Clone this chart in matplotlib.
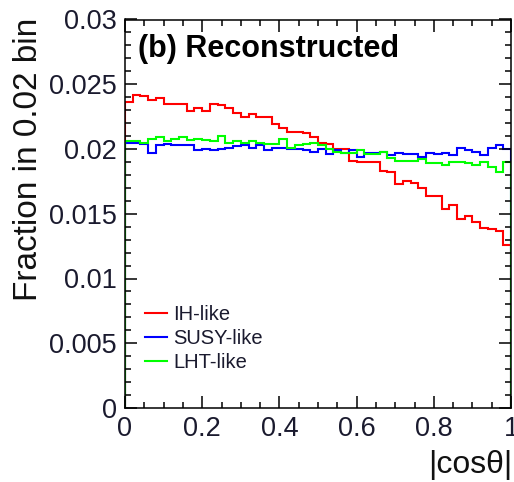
import numpy as np
import matplotlib
matplotlib.use("Agg")
import matplotlib.pyplot as plt
from matplotlib.lines import Line2D
from matplotlib.ticker import MultipleLocator

plt.rcParams["font.family"] = ["Liberation Sans", "DejaVu Sans"]

# 50 bins of |cos theta| between 0 and 1, fraction of events per 0.02 bin
bin_edges = np.linspace(0.0, 1.0, 51)

ih_like = [
    0.0236, 0.0242, 0.0241, 0.0238, 0.0239, 0.0235, 0.0235, 0.0235, 0.0229, 0.0232,
    0.0229, 0.0235, 0.0234, 0.0232, 0.0228, 0.0225, 0.0227, 0.0225, 0.0225, 0.0219,
    0.0216, 0.0213, 0.0213, 0.0212, 0.0209, 0.0205, 0.0204, 0.0200, 0.0200, 0.0191,
    0.0190, 0.0190, 0.0190, 0.0183, 0.0182, 0.0173, 0.0175, 0.0174, 0.0170, 0.0164,
    0.0164, 0.0154, 0.0157, 0.0146, 0.0148, 0.0144, 0.0139, 0.0138, 0.0137, 0.0126,
]
susy_like = [
    0.0205, 0.0205, 0.0204, 0.0197, 0.0203, 0.0204, 0.0203, 0.0203, 0.0203, 0.0199,
    0.0200, 0.0199, 0.0200, 0.0201, 0.0202, 0.0203, 0.0201, 0.0203, 0.0199, 0.0201,
    0.0201, 0.0200, 0.0200, 0.01995, 0.0198, 0.0200, 0.0196, 0.0199, 0.0197, 0.01995,
    0.01935, 0.0197, 0.0197, 0.0198, 0.0195, 0.0197, 0.0196, 0.0196, 0.0194, 0.0197,
    0.0196, 0.0197, 0.0195, 0.0201, 0.0199, 0.0198, 0.0195, 0.0201, 0.0203, 0.0200,
]
lht_like = [
    0.0206, 0.02065, 0.0205, 0.0208, 0.0209, 0.0206, 0.0208, 0.0209, 0.0207, 0.0208,
    0.0207, 0.0206, 0.0210, 0.0205, 0.0206, 0.0205, 0.0206, 0.0205, 0.0204, 0.0204,
    0.0208, 0.0201, 0.0203, 0.0204, 0.0205, 0.0203, 0.0200, 0.0198, 0.0197, 0.0197,
    0.0199, 0.0196, 0.0196, 0.0198, 0.0193, 0.0191, 0.0191, 0.0191, 0.0192, 0.0189,
    0.0189, 0.01876, 0.0190, 0.0190, 0.0189, 0.01876, 0.0190, 0.01858, 0.01819, 0.0190,
]

series_names = ["IH-like", "SUSY-like", "LHT-like"]
series_colors = ["#ff0000", "#0000ff", "#00ff00"]

x_ticks = [0.0, 0.2, 0.4, 0.6, 0.8, 1.0]
x_tick_labels = ["0", "0.2", "0.4", "0.6", "0.8", "1"]
y_ticks = [0.0, 0.005, 0.01, 0.015, 0.02, 0.025, 0.03]
y_tick_labels = ["0", "0.005", "0.01", "0.015", "0.02", "0.025", "0.03"]

text_col = "#1a1a2e"

fig = plt.figure(figsize=(5.14, 4.82), dpi=100)
ax = fig.add_axes([125 / 514, 74 / 482, 386 / 514, 388.5 / 482])

for vals, col in zip([ih_like, susy_like, lht_like], series_colors):
    ax.stairs(vals, bin_edges, color=col, linewidth=1.5, baseline=0.0)

ax.set_xlim(0, 1)
ax.set_ylim(0, 0.03)
ax.set_xticks(x_ticks)
ax.set_xticklabels(x_tick_labels)
ax.set_yticks(y_ticks)
ax.set_yticklabels(y_tick_labels)
ax.xaxis.set_minor_locator(MultipleLocator(0.05))
ax.yaxis.set_minor_locator(MultipleLocator(0.001))
ax.tick_params(which="both", direction="in", top=True, right=True,
               width=1.1, color="black", labelcolor=text_col, labelsize=19.5)
ax.tick_params(which="major", length=8.5)
ax.tick_params(which="minor", length=4.5)
ax.tick_params(axis="y", which="major", pad=6)
ax.tick_params(axis="x", which="major", pad=6)
for sp in ax.spines.values():
    sp.set_linewidth(1.1)

ax.text(0.034, 0.9035, "(b) Reconstructed", transform=ax.transAxes,
        fontsize=22, fontweight="bold", va="baseline", ha="left", color="black")

fig.text(29 / 514, 1 - 18 / 482, "Fraction in 0.02 bin", rotation=90,
         ha="center", va="top", fontsize=24, color="#111111")
fig.text(512 / 514, 1 - 465 / 482, "|cos\u03b8|", ha="right", va="center",
         fontsize=23, color="#111111")

handles = [Line2D([], [], color=c, linewidth=1.5) for c in series_colors]
ax.legend(handles, series_names, loc="upper left", bbox_to_anchor=(0.052, 0.265),
          frameon=False, fontsize=14.5, handlelength=1.1, handletextpad=0.3,
          labelspacing=0.25, borderpad=0, borderaxespad=0, labelcolor=text_col)

fig.savefig("out.png", dpi=100)
